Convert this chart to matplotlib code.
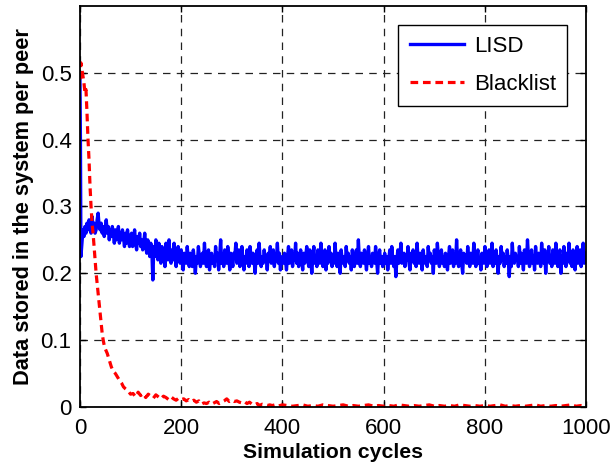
import numpy as np
import matplotlib
matplotlib.use("Agg")
import matplotlib.pyplot as plt

plt.rcParams['font.family'] = ['Liberation Sans', 'DejaVu Sans']

# ---------------- data ----------------
lisd_head_cycles = [0, 1]
lisd_head_values = [0.50, 0.40]

lisd_body_cycles = list(range(2, 1001, 2))
lisd_body_values = [
    0.225, 0.245, 0.265, 0.255, 0.27, 0.26, 0.275, 0.265, 0.28, 0.27,
    0.26, 0.285, 0.27, 0.275, 0.26, 0.265, 0.28, 0.29, 0.27, 0.265,
    0.275, 0.26, 0.27, 0.255, 0.265, 0.28, 0.26, 0.27, 0.25, 0.265,
    0.255, 0.27, 0.26, 0.245, 0.265, 0.25, 0.255, 0.27, 0.245, 0.26,
    0.25, 0.265, 0.255, 0.24, 0.26, 0.245, 0.265, 0.25, 0.24, 0.255,
    0.26, 0.24, 0.25, 0.265, 0.245, 0.235, 0.255, 0.245, 0.26, 0.24,
    0.25, 0.235, 0.245, 0.26, 0.24, 0.23, 0.25, 0.24, 0.225, 0.245,
    0.235, 0.19, 0.24, 0.225, 0.25, 0.235, 0.22, 0.245, 0.23, 0.215,
    0.24, 0.225, 0.235, 0.21, 0.245, 0.23, 0.22, 0.25, 0.225, 0.215,
    0.235, 0.22, 0.245, 0.225, 0.21, 0.23, 0.24, 0.22, 0.215, 0.235,
    0.22, 0.205, 0.23, 0.225, 0.215, 0.24, 0.22, 0.21, 0.23, 0.225,
    0.21, 0.235, 0.22, 0.20, 0.225, 0.215, 0.24, 0.225, 0.21, 0.22,
    0.23, 0.215, 0.245, 0.22, 0.21, 0.225, 0.235, 0.205, 0.22, 0.23,
    0.215, 0.225, 0.21, 0.24, 0.22, 0.23, 0.205, 0.225, 0.25, 0.215,
    0.225, 0.21, 0.235, 0.22, 0.215, 0.24, 0.225, 0.205, 0.23, 0.22,
    0.21, 0.23, 0.225, 0.245, 0.215, 0.22, 0.235, 0.21, 0.225, 0.24,
    0.22, 0.205, 0.225, 0.215, 0.235, 0.22, 0.21, 0.24, 0.225, 0.215,
    0.23, 0.22, 0.20, 0.225, 0.235, 0.215, 0.245, 0.22, 0.21, 0.225,
    0.215, 0.235, 0.22, 0.225, 0.205, 0.23, 0.22, 0.24, 0.215, 0.225,
    0.235, 0.21, 0.225, 0.22, 0.245, 0.215, 0.23, 0.205, 0.22, 0.225,
    0.215, 0.23, 0.22, 0.205, 0.225, 0.24, 0.215, 0.22, 0.235, 0.21,
    0.225, 0.22, 0.245, 0.215, 0.23, 0.21, 0.225, 0.235, 0.22, 0.205,
    0.23, 0.215, 0.225, 0.24, 0.22, 0.21, 0.235, 0.22, 0.20, 0.225,
    0.24, 0.215, 0.225, 0.21, 0.235, 0.22, 0.215, 0.245, 0.225, 0.21,
    0.22, 0.235, 0.205, 0.225, 0.215, 0.24, 0.22, 0.23, 0.21, 0.225,
    0.215, 0.245, 0.22, 0.21, 0.23, 0.225, 0.20, 0.235, 0.22, 0.215,
    0.225, 0.21, 0.24, 0.22, 0.23, 0.215, 0.225, 0.205, 0.235, 0.22,
    0.21, 0.225, 0.235, 0.215, 0.25, 0.22, 0.21, 0.23, 0.225, 0.215,
    0.235, 0.22, 0.205, 0.225, 0.24, 0.215, 0.225, 0.21, 0.23, 0.22,
    0.215, 0.24, 0.22, 0.20, 0.225, 0.235, 0.215, 0.225, 0.21, 0.22,
    0.23, 0.215, 0.225, 0.205, 0.22, 0.235, 0.215, 0.24, 0.22, 0.21,
    0.225, 0.195, 0.22, 0.235, 0.215, 0.225, 0.245, 0.215, 0.22, 0.23,
    0.21, 0.225, 0.22, 0.24, 0.215, 0.205, 0.23, 0.22, 0.235, 0.215,
    0.225, 0.21, 0.245, 0.22, 0.215, 0.23, 0.225, 0.205, 0.235, 0.22,
    0.215, 0.225, 0.21, 0.24, 0.22, 0.23, 0.215, 0.225, 0.20, 0.235,
    0.22, 0.215, 0.245, 0.225, 0.21, 0.22, 0.235, 0.215, 0.225, 0.21,
    0.23, 0.22, 0.205, 0.225, 0.24, 0.215, 0.22, 0.235, 0.21, 0.225,
    0.215, 0.25, 0.22, 0.21, 0.225, 0.235, 0.215, 0.20, 0.23, 0.22,
    0.225, 0.215, 0.24, 0.22, 0.21, 0.23, 0.225, 0.215, 0.245, 0.22,
    0.21, 0.225, 0.235, 0.215, 0.22, 0.205, 0.23, 0.225, 0.215, 0.24,
    0.22, 0.21, 0.225, 0.235, 0.215, 0.22, 0.245, 0.21, 0.225, 0.215,
    0.235, 0.22, 0.20, 0.225, 0.215, 0.24, 0.22, 0.23, 0.21, 0.225,
    0.215, 0.235, 0.22, 0.195, 0.225, 0.21, 0.245, 0.22, 0.215, 0.23,
    0.22, 0.225, 0.21, 0.24, 0.215, 0.23, 0.22, 0.205, 0.235, 0.22,
    0.215, 0.25, 0.225, 0.21, 0.22, 0.235, 0.215, 0.225, 0.205, 0.24,
    0.22, 0.215, 0.23, 0.225, 0.21, 0.245, 0.22, 0.215, 0.235, 0.20,
    0.225, 0.22, 0.24, 0.215, 0.225, 0.21, 0.235, 0.22, 0.215, 0.245,
    0.22, 0.21, 0.225, 0.235, 0.20, 0.225, 0.215, 0.24, 0.22, 0.21,
    0.23, 0.22, 0.245, 0.215, 0.225, 0.21, 0.235, 0.22, 0.205, 0.225,
    0.24, 0.215, 0.22, 0.235, 0.21, 0.225, 0.245, 0.215, 0.22, 0.23,
]

bl_cycles = [
    0, 2, 4, 6, 8, 10, 12, 14, 16, 18, 20, 22, 24, 26, 28, 30, 32, 34, 36, 38,
    40, 42, 44, 46, 48, 50, 54, 58, 62, 66, 70, 74, 78, 82, 86, 90, 95, 100,
]
bl_values = [
    0.49, 0.515, 0.505, 0.495, 0.485, 0.47, 0.475, 0.44, 0.40, 0.37,
    0.33, 0.30, 0.275, 0.26, 0.24, 0.22, 0.20, 0.185, 0.17, 0.155,
    0.14, 0.125, 0.11, 0.10, 0.092, 0.087, 0.08, 0.07, 0.06, 0.053,
    0.05, 0.045, 0.04, 0.036, 0.03, 0.027, 0.024, 0.019,
]
bl_tail1_cycles = list(range(105, 401, 5))
bl_tail1_values = [
    0.02, 0.015, 0.022, 0.017, 0.02, 0.014, 0.019, 0.016, 0.013, 0.018,
    0.015, 0.012, 0.016, 0.014, 0.011, 0.015, 0.012, 0.01, 0.013, 0.011,
    0.012, 0.009, 0.011, 0.008, 0.01, 0.007, 0.009, 0.004, 0.006, 0.005,
    0.007, 0.004, 0.006, 0.008, 0.005, 0.007, 0.009, 0.012, 0.008, 0.01,
    0.008, 0.009, 0.007, 0.006, 0.008, 0.005, 0.007, 0.004, 0.003, 0.005,
    0.002, 0.004, 0.003, 0.002, 0.003, 0.002, 0.003, 0.001, 0.002, 0.003,
]
bl_tail2_cycles = list(range(410, 1001, 10))
bl_tail2_values = [
    0.002, 0.001, 0.002, 0.003, 0.001, 0.002, 0.001, 0.003, 0.002, 0.001,
    0.002, 0.003, 0.001, 0.002, 0.001, 0.002, 0.003, 0.001, 0.002, 0.001,
    0.002, 0.001, 0.003, 0.002, 0.001, 0.002, 0.001, 0.002, 0.003, 0.001,
    0.002, 0.001, 0.002, 0.001, 0.003, 0.002, 0.001, 0.002, 0.001, 0.002,
    0.001, 0.002, 0.003, 0.001, 0.002, 0.001, 0.002, 0.001, 0.002, 0.003,
    0.001, 0.002, 0.001, 0.002, 0.001, 0.002, 0.003, 0.001, 0.002, 0.001,
]

xticks = [0, 200, 400, 600, 800, 1000]
yticks = [0, 0.1, 0.2, 0.3, 0.4, 0.5]
ytick_labels = ["0", "0.1", "0.2", "0.3", "0.4", "0.5"]

# ---------------- plot ----------------
lisd_x = lisd_head_cycles + lisd_body_cycles
lisd_y = lisd_head_values + lisd_body_values
bl_x = bl_cycles + bl_tail1_cycles + bl_tail2_cycles
bl_y = bl_values + bl_tail1_values + bl_tail2_values

fig = plt.figure(figsize=(6.10, 4.65), dpi=100)
ax = fig.add_axes([0.131, 0.125, 0.830, 0.862])

ax.plot(lisd_x, lisd_y, color="#0000ff", lw=2.4, label="LISD")
ax.plot(bl_x, bl_y, color="#ff0000", lw=2.3, ls=(0, (2.4, 1.5)), label="Blacklist")

ax.set_xlim(0, 1000)
ax.set_ylim(0, 0.6)
ax.set_xticks(xticks)
ax.set_yticks(yticks)
ax.set_yticklabels(ytick_labels)
ax.grid(True, color="#222222", ls=(0, (6, 5)), lw=0.9)
ax.set_axisbelow(True)

ax.tick_params(axis="both", direction="in", length=4, width=1, labelsize=16,
               top=True, right=True)
ax.tick_params(axis="x", pad=8)
ax.tick_params(axis="y", pad=6)
for s in ax.spines.values():
    s.set_linewidth(1.3)
    s.set_color("black")

ax.set_xlabel("Simulation cycles", fontsize=15.3, fontweight="bold", labelpad=3)
ax.set_ylabel("Data stored in the system per peer", fontsize=15.7, fontweight="bold", labelpad=5)

leg = ax.legend(loc="upper right", bbox_to_anchor=(0.9625, 0.9526), borderaxespad=0,
                fontsize=16, frameon=True, fancybox=False, edgecolor="black", framealpha=1,
                handlelength=2.45, handletextpad=0.45, borderpad=0.5, labelspacing=0.75)
leg.get_frame().set_linewidth(1.0)

fig.savefig("out.png", dpi=100)
